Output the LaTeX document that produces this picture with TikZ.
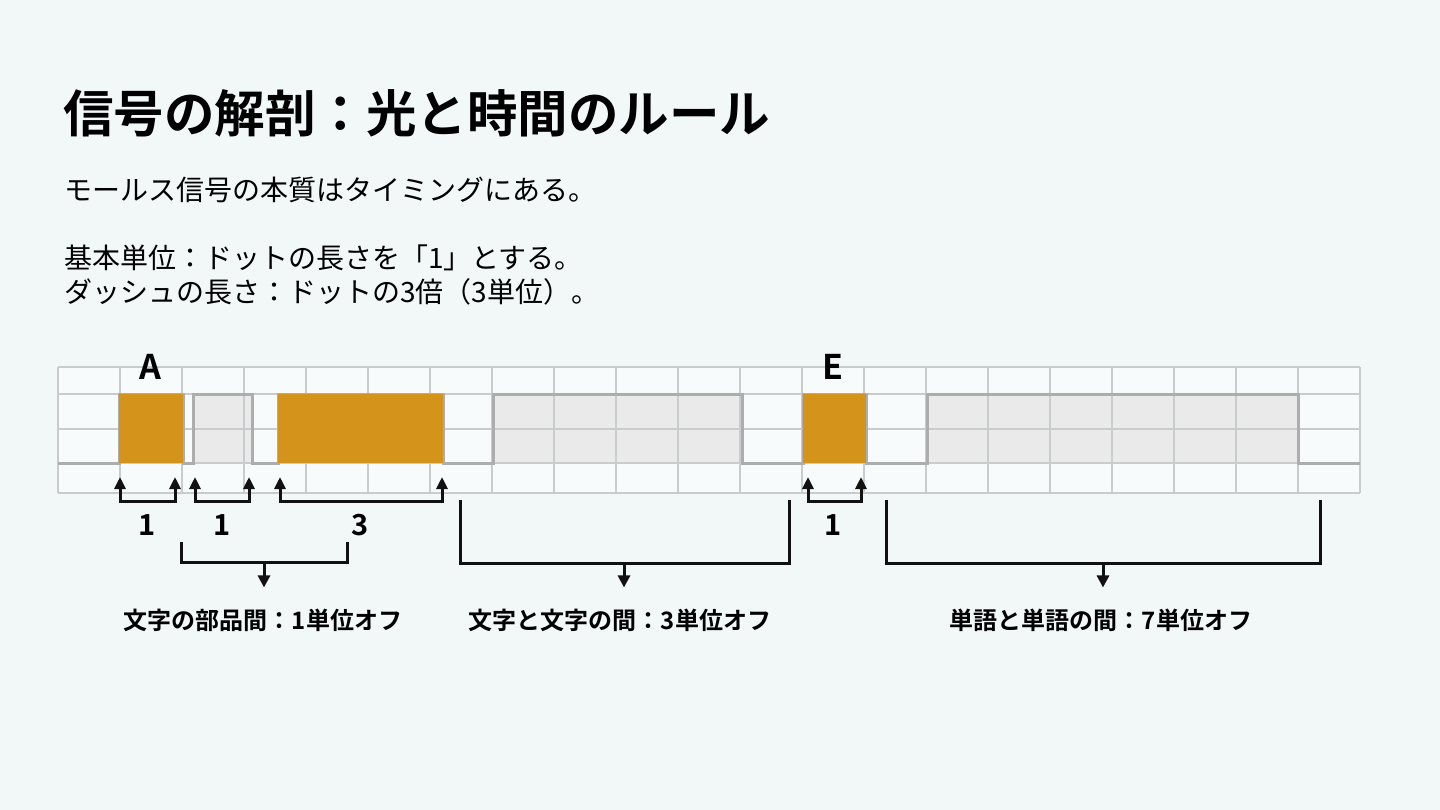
\documentclass[tikz,border=0pt]{standalone}
\usepackage{fontspec}
\setmainfont{Noto Sans CJK JP}[BoldFont={Noto Sans CJK JP Bold}]
\usetikzlibrary{arrows.meta,positioning}
\definecolor{cBack}{HTML}{F2F7F8}
\definecolor{cCell}{HTML}{F8FBFC}
\definecolor{cGrid}{HTML}{C9CCCD}
\definecolor{cOn}{HTML}{D4931A}
\definecolor{cOffFill}{HTML}{EAEAEA}
\definecolor{cOffLine}{HTML}{ADADAD}
\definecolor{cInk}{HTML}{111111}
\tikzset{
  ttl/.style    = {anchor=west, inner sep=0pt, font=\fontsize{50.5}{60}\selectfont\bfseries},
  txt/.style    = {anchor=west, inner sep=0pt, font=\fontsize{28}{32}\selectfont},
  sym/.style    = {inner sep=0pt, font=\fontsize{34}{40}\selectfont\bfseries},
  num/.style    = {inner sep=0pt, font=\fontsize{29}{32}\selectfont\bfseries},
  gaplab/.style = {inner sep=0pt, font=\fontsize{24}{28}\selectfont\bfseries},
  dotbox/.style = {fill=cOn},
  gapbox/.style = {fill=cOffFill},
  trace/.style  = {draw=cOffLine, line width=3pt, line join=miter},
  dim/.style    = {{Triangle[length=12pt,width=11pt]}-{Triangle[length=12pt,width=11pt]},
                   draw=cInk, line width=3pt},
  brk/.style    = {draw=cInk, line width=3pt},
  drop/.style   = {-{Triangle[length=12pt,width=12pt]}, draw=cInk, line width=3pt,
                   shorten >=21pt},
}
\begin{document}
\begin{tikzpicture}[x=1pt, y=-1pt]
  \fill[cBack] (0,0) rectangle (1440,810);
  \useasboundingbox (0,0) rectangle (1440,810);

  % heading and rules
  \node[ttl] (title) at (63,113) {信号の解剖：光と時間のルール};
  \node[txt] (sub)   at (64,190) {モールス信号の本質はタイミングにある。};
  \node[txt] (rule1) at (64,258) {基本単位：ドットの長さを「1」とする。};
  \node[txt] (rule2) at (64,292) {ダッシュの長さ：ドットの3倍（3単位）。};

  % timing grid
  \fill[cCell] (58,367) rectangle (1360,493);
  \fill[gapbox] (193,394) rectangle (252,463);
  \fill[gapbox] (493,394) rectangle (742,463);
  \fill[gapbox] (927,394) rectangle (1298,463);
  \foreach \y in {367,394,429,463,493}
    \draw[cGrid, line width=1.2pt] (58,\y) -- (1360,\y);
  \foreach \i in {0,...,21}
    \draw[cGrid, line width=1.2pt] (58+62*\i,367) -- (58+62*\i,493);
  \draw[trace] (58,463) -- (119,463) -- (119,394) -- (183,394) -- (183,463)
    -- (193,463) -- (193,394) -- (252,394) -- (252,463) -- (278,463)
    -- (278,394) -- (443,394) -- (443,463) -- (493,463) -- (493,394)
    -- (742,394) -- (742,463) -- (803,463) -- (803,394) -- (866,394)
    -- (866,463) -- (927,463) -- (927,394) -- (1298,394) -- (1298,463)
    -- (1360,463);
  \fill[dotbox] (119,394) rectangle (183,463);
  \fill[dotbox] (278,394) rectangle (443,463);
  \fill[dotbox] (803,394) rectangle (866,463);

  \node[sym] (la) at (150,367) {A};
  \node[sym] (le) at (833,367) {E};

  % unit markers
  \coordinate (m1a) at (120,477);  \coordinate (m1b) at (175,477);
  \coordinate (m2a) at (195,477);  \coordinate (m2b) at (249,477);
  \coordinate (m3a) at (280,477);  \coordinate (m3b) at (442,477);
  \coordinate (m4a) at (808,477);  \coordinate (m4b) at (861,477);
  \draw[dim] (m1a) -- ++(0,24) -| (m1b);
  \draw[dim] (m2a) -- ++(0,24) -| (m2b);
  \draw[dim] (m3a) -- ++(0,24) -| (m3b);
  \draw[dim] (m4a) -- ++(0,24) -| (m4b);
  \node[num] (n1) at (147,525) {1};
  \node[num] (n2) at (222,525) {1};
  \node[num] (n3) at (360,525) {3};
  \node[num] (n4) at (833,525) {1};

  % gap brackets
  \node[gaplab] (g1) at (263,620) {文字の部品間：1単位オフ};
  \node[gaplab] (g2) at (620,620) {文字と文字の間：3単位オフ};
  \node[gaplab] (g3) at (1101,620) {単語と単語の間：7単位オフ};
  \coordinate (b1a) at (181,542);  \coordinate (b1b) at (347,542);
  \coordinate (b2a) at (460,500);  \coordinate (b2b) at (789,500);
  \coordinate (b3a) at (886,500);  \coordinate (b3b) at (1320,500);
  \coordinate (b1m) at (264,562);
  \coordinate (b2m) at (624,563);
  \coordinate (b3m) at (1103,563);
  \draw[brk] (b1a) |- (b1m) -| (b1b);
  \draw[brk] (b2a) |- (b2m) -| (b2b);
  \draw[brk] (b3a) |- (b3m) -| (b3b);
  \draw[drop] (b1m) -- (b1m |- g1.north);
  \draw[drop] (b2m) -- (b2m |- g2.north);
  \draw[drop] (b3m) -- (b3m |- g3.north);
\end{tikzpicture}
\end{document}
